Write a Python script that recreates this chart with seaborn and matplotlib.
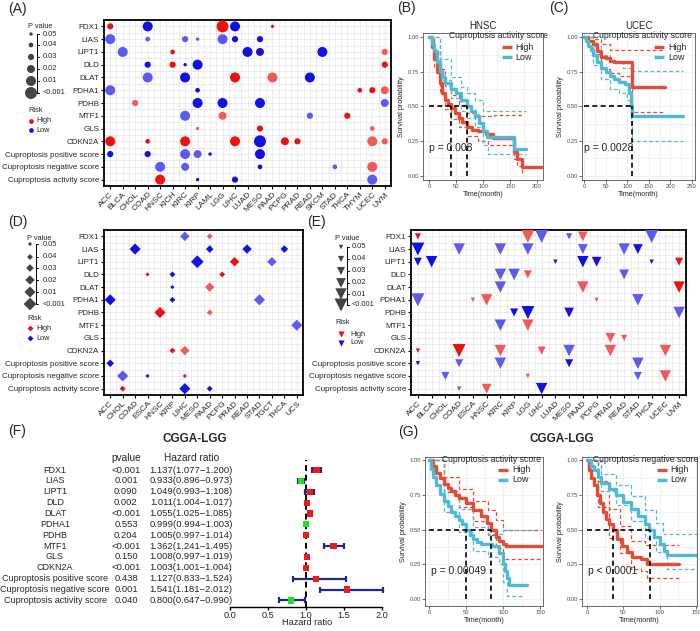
import numpy as np
import pandas as pd
import matplotlib
matplotlib.use("Agg")
import matplotlib.pyplot as plt
import seaborn as sns

# ---------------- data ----------------
gene_keys = ["FDX1", "LIAS", "LIPT1", "DLD", "DLAT", "PDHA1", "PDHB", "MTF1", "GLS", "CDKN2A",
             "POS", "NEG", "ACT"]
gene_labels = ["FDX1", "LIAS", "LIPT1", "DLD", "DLAT", "PDHA1", "PDHB", "MTF1", "GLS", "CDKN2A",
               "Cuproptosis positive score", "Cuproptosis negative score", "Cuproptosis activity score"]
p_levels = ["0.05", "0.04", "0.03", "0.02", "0.01", "<0.001"]

A_cancers = ["ACC", "BLCA", "CHOL", "COAD", "HNSC", "KICH", "KIRC", "KIRP", "LAML", "LGG", "LIHC", "LUAD",
             "MESO", "PAAD", "PCPG", "PRAD", "READ", "SKCM", "STAD", "THCA", "THYM", "UCEC", "UVM"]
D_cancers = ["ACC", "CHOL", "COAD", "ESCA", "HNSC", "KIRP", "LIHC", "MESO", "PAAD", "PCPG", "PRAD", "READ",
             "STAD", "TGCT", "THCA", "UCS"]
E_cancers = ["ACC", "BLCA", "CHOL", "COAD", "ESCA", "HNSC", "KIRC", "KIRP", "LGG", "LIHC", "LUAD", "MESO",
             "PAAD", "PCPG", "PRAD", "READ", "STAD", "THCA", "UCEC", "UVM"]

# (gene, cancer, risk H/L, p-value level 1..6, lighter shade)
A_points = [
    ("FDX1", "ACC", "H", 3, 0), ("FDX1", "COAD", "L", 5, 0), ("FDX1", "LGG", "H", 6, 0), ("FDX1", "LIHC", "L", 5, 0),
    ("FDX1", "PAAD", "H", 1, 0),
    ("LIAS", "ACC", "L", 5, 1), ("LIAS", "COAD", "L", 2, 1), ("LIAS", "KIRC", "L", 3, 1), ("LIAS", "KIRP", "L", 1, 1),
    ("LIAS", "LGG", "L", 5, 1), ("LIAS", "LIHC", "L", 3, 0), ("LIAS", "MESO", "L", 3, 0),
    ("LIPT1", "BLCA", "L", 5, 1), ("LIPT1", "KICH", "H", 2, 0), ("LIPT1", "LUAD", "L", 5, 0), ("LIPT1", "MESO", "L", 4, 0),
    ("LIPT1", "SKCM", "L", 5, 0), ("LIPT1", "UVM", "H", 3, 1),
    ("DLD", "COAD", "L", 3, 0), ("DLD", "KICH", "H", 3, 0), ("DLD", "KIRC", "L", 1, 0), ("DLD", "KIRP", "L", 5, 0),
    ("DLD", "UVM", "H", 3, 0),
    ("DLAT", "COAD", "L", 5, 1), ("DLAT", "KIRC", "L", 5, 0), ("DLAT", "LIHC", "H", 5, 0), ("DLAT", "PAAD", "H", 5, 1),
    ("DLAT", "READ", "L", 5, 0),
    ("PDHA1", "ACC", "L", 5, 1), ("PDHA1", "KIRP", "L", 2, 0), ("PDHA1", "THYM", "H", 2, 0), ("PDHA1", "UCEC", "H", 3, 0),
    ("PDHA1", "UVM", "H", 4, 1),
    ("PDHB", "CHOL", "H", 3, 1), ("PDHB", "KIRP", "L", 5, 0), ("PDHB", "LGG", "L", 5, 0), ("PDHB", "MESO", "L", 5, 0),
    ("PDHB", "UVM", "L", 4, 1),
    ("MTF1", "KIRC", "L", 5, 1), ("MTF1", "LGG", "H", 4, 1), ("MTF1", "READ", "L", 3, 1), ("MTF1", "THCA", "H", 3, 0),
    ("GLS", "KIRP", "H", 1, 1), ("GLS", "MESO", "H", 3, 0), ("GLS", "UCEC", "H", 2, 1),
    ("CDKN2A", "ACC", "H", 5, 0), ("CDKN2A", "COAD", "H", 2, 0), ("CDKN2A", "KIRC", "H", 5, 0), ("CDKN2A", "LIHC", "H", 5, 0),
    ("CDKN2A", "MESO", "L", 6, 0), ("CDKN2A", "PCPG", "H", 4, 0), ("CDKN2A", "PRAD", "H", 3, 0),
    ("CDKN2A", "UCEC", "H", 5, 1), ("CDKN2A", "UVM", "H", 3, 1),
    ("POS", "ACC", "L", 3, 0), ("POS", "COAD", "L", 3, 0), ("POS", "KIRC", "L", 5, 1), ("POS", "KIRP", "L", 4, 1),
    ("POS", "LAML", "L", 1, 0), ("POS", "MESO", "L", 5, 0),
    ("NEG", "HNSC", "L", 5, 1), ("NEG", "KIRC", "L", 4, 1), ("NEG", "MESO", "L", 2, 0), ("NEG", "STAD", "L", 2, 1),
    ("NEG", "UCEC", "H", 5, 1),
    ("ACT", "HNSC", "H", 5, 0), ("ACT", "KIRP", "L", 1, 0), ("ACT", "LIHC", "L", 3, 0), ("ACT", "UCEC", "L", 5, 1),
]

D_points = [
    ("FDX1", "LIHC", "L", 4, 1), ("FDX1", "PAAD", "H", 2, 1),
    ("LIAS", "COAD", "L", 5, 0), ("LIAS", "PAAD", "L", 3, 0), ("LIAS", "READ", "L", 4, 0), ("LIAS", "THCA", "L", 3, 0),
    ("LIPT1", "MESO", "L", 6, 0), ("LIPT1", "PRAD", "H", 4, 0), ("LIPT1", "TGCT", "L", 4, 1),
    ("DLD", "ESCA", "H", 1, 0), ("DLD", "KIRP", "L", 2, 0), ("DLD", "PCPG", "H", 2, 0),
    ("DLAT", "KIRP", "L", 1, 0), ("DLAT", "PAAD", "H", 4, 1),
    ("PDHA1", "ACC", "L", 5, 0), ("PDHA1", "KIRP", "L", 2, 0), ("PDHA1", "STAD", "L", 5, 1),
    ("PDHB", "HNSC", "H", 5, 0), ("PDHB", "PAAD", "H", 2, 1),
    ("MTF1", "UCS", "L", 5, 1),
    ("CDKN2A", "KIRP", "H", 2, 0), ("CDKN2A", "LIHC", "H", 4, 1),
    ("POS", "ACC", "L", 3, 0),
    ("NEG", "CHOL", "L", 5, 1), ("NEG", "ESCA", "L", 1, 0), ("NEG", "LIHC", "H", 1, 0),
    ("ACT", "CHOL", "H", 2, 0), ("ACT", "LIHC", "L", 5, 0), ("ACT", "PAAD", "L", 2, 0),
]

E_points = [
    ("FDX1", "ACC", "H", 2, 0), ("FDX1", "LGG", "H", 6, 1), ("FDX1", "LIHC", "L", 6, 1), ("FDX1", "MESO", "L", 2, 1),
    ("FDX1", "PAAD", "H", 4, 1), ("FDX1", "THCA", "L", 6, 1),
    ("LIAS", "ACC", "L", 6, 0), ("LIAS", "COAD", "L", 5, 1), ("LIAS", "KIRC", "L", 5, 1), ("LIAS", "LGG", "L", 5, 1),
    ("LIAS", "PAAD", "L", 4, 1), ("LIAS", "READ", "L", 5, 1), ("LIAS", "STAD", "L", 4, 0),
    ("LIPT1", "ACC", "L", 3, 0), ("LIPT1", "BLCA", "L", 5, 0), ("LIPT1", "LUAD", "L", 1, 0), ("LIPT1", "PAAD", "L", 5, 0),
    ("LIPT1", "PCPG", "L", 4, 0), ("LIPT1", "THCA", "L", 1, 0), ("LIPT1", "UVM", "H", 3, 0),
    ("DLD", "KIRC", "L", 5, 1), ("DLD", "KIRP", "L", 5, 1), ("DLD", "LGG", "H", 3, 1), ("DLD", "READ", "L", 4, 1),
    ("DLAT", "KIRC", "L", 5, 1), ("DLAT", "PAAD", "H", 5, 1), ("DLAT", "UVM", "H", 5, 0),
    ("PDHA1", "ACC", "L", 6, 1), ("PDHA1", "ESCA", "H", 1, 1), ("PDHA1", "HNSC", "H", 5, 1), ("PDHA1", "PCPG", "H", 1, 1),
    ("PDHA1", "STAD", "L", 5, 1),
    ("PDHB", "KIRP", "L", 3, 0), ("PDHB", "LGG", "L", 6, 0), ("PDHB", "MESO", "L", 4, 0), ("PDHB", "UVM", "L", 5, 1),
    ("MTF1", "KIRC", "L", 5, 1), ("MTF1", "LGG", "H", 5, 1),
    ("GLS", "PRAD", "H", 4, 1), ("GLS", "READ", "H", 2, 1),
    ("CDKN2A", "ACC", "H", 1, 0), ("CDKN2A", "COAD", "H", 6, 0), ("CDKN2A", "KIRC", "H", 5, 1), ("CDKN2A", "LIHC", "H", 3, 1),
    ("CDKN2A", "MESO", "L", 5, 1), ("CDKN2A", "PRAD", "H", 5, 1), ("CDKN2A", "UCEC", "H", 5, 1),
    ("POS", "ACC", "L", 1, 0), ("POS", "COAD", "L", 3, 1), ("POS", "KIRC", "L", 5, 1), ("POS", "MESO", "L", 3, 0),
    ("POS", "STAD", "L", 5, 1),
    ("NEG", "CHOL", "L", 3, 1), ("NEG", "LGG", "H", 1, 1), ("NEG", "STAD", "L", 3, 1), ("NEG", "UCEC", "H", 5, 1),
    ("ACT", "COAD", "L", 1, 1), ("ACT", "HNSC", "H", 4, 1), ("ACT", "LIHC", "L", 5, 0),
]

# survival curves: (time in months, survival probability)
B_high = ([0, 5, 10, 15, 20, 25, 30, 35, 40, 48, 55, 62, 70, 80, 90, 105, 118, 157, 162, 172, 210],
          [1.0, 0.93, 0.84, 0.75, 0.67, 0.6, 0.55, 0.52, 0.49, 0.45, 0.42, 0.39, 0.35, 0.33, 0.32, 0.3, 0.27, 0.17, 0.12, 0.06, 0.06])
B_low = ([0, 5, 10, 15, 20, 25, 30, 40, 50, 60, 70, 78, 85, 92, 100, 108, 158, 180],
         [1.0, 0.95, 0.9, 0.82, 0.76, 0.71, 0.67, 0.63, 0.6, 0.55, 0.5, 0.47, 0.43, 0.38, 0.32, 0.28, 0.19, 0.19])
B_high_up = ([0, 10, 20, 30, 40, 55, 70, 90, 120, 175], [1.0, 0.9, 0.77, 0.65, 0.58, 0.51, 0.45, 0.43, 0.44, 0.44])
B_high_lo = ([0, 10, 20, 30, 40, 55, 70, 90, 110, 157, 162, 172], [1.0, 0.78, 0.6, 0.48, 0.41, 0.35, 0.29, 0.25, 0.22, 0.12, 0.07, 0.02])
B_low_up = ([0, 20, 40, 60, 70, 85, 100, 180], [1.0, 0.84, 0.71, 0.64, 0.6, 0.55, 0.47, 0.47])
B_low_lo = ([0, 20, 40, 60, 70, 85, 100, 110, 158, 180], [1.0, 0.69, 0.56, 0.47, 0.42, 0.35, 0.22, 0.16, 0.16, 0.16])
B_med = [40, 71]

C_high = ([0, 10, 20, 30, 40, 50, 60, 70, 112, 188], [1.0, 0.97, 0.95, 0.9, 0.86, 0.85, 0.83, 0.82, 0.64, 0.64])
C_low = ([0, 5, 10, 15, 20, 30, 40, 50, 60, 70, 80, 95, 103, 108, 112, 230],
         [1.0, 0.97, 0.94, 0.91, 0.87, 0.82, 0.78, 0.75, 0.72, 0.7, 0.68, 0.66, 0.6, 0.5, 0.43, 0.43])
C_high_up = ([0, 20, 40, 60, 188], [1.0, 0.99, 0.95, 0.91, 0.91])
C_high_lo = ([0, 20, 40, 60, 80, 112, 188], [1.0, 0.88, 0.77, 0.74, 0.72, 0.46, 0.46])
C_low_up = ([0, 20, 40, 60, 90, 112, 230], [1.0, 0.94, 0.87, 0.83, 0.78, 0.76, 0.76])
C_low_lo = ([0, 20, 40, 60, 80, 100, 108, 112, 230], [1.0, 0.8, 0.7, 0.63, 0.6, 0.55, 0.4, 0.25, 0.25])
C_med = [111]

G1_high = ([0, 5, 10, 15, 20, 25, 30, 35, 40, 50, 60, 70, 78, 84, 90, 95, 100, 104, 153],
           [1.0, 0.96, 0.91, 0.87, 0.83, 0.8, 0.78, 0.75, 0.73, 0.69, 0.64, 0.6, 0.55, 0.5, 0.45, 0.42, 0.4, 0.38, 0.38])
G1_low = ([0, 3, 6, 10, 15, 20, 25, 30, 35, 40, 45, 50, 55, 60, 65, 70, 85, 95, 100, 102, 106, 108, 132],
          [1.0, 0.94, 0.88, 0.82, 0.76, 0.71, 0.67, 0.63, 0.6, 0.57, 0.54, 0.5, 0.46, 0.43, 0.41, 0.4, 0.38, 0.33, 0.25, 0.2, 0.15, 0.1, 0.1])
G1_high_up = ([0, 20, 40, 60, 80, 90, 100, 153], [1.0, 0.88, 0.79, 0.71, 0.64, 0.57, 0.5, 0.5])
G1_high_lo = ([0, 20, 40, 60, 80, 90, 100, 153], [1.0, 0.77, 0.66, 0.56, 0.46, 0.37, 0.29, 0.29])
G1_low_up = ([0, 20, 40, 60, 80, 100, 143], [1.0, 0.78, 0.65, 0.52, 0.47, 0.5, 0.5])
G1_low_lo = ([0, 20, 40, 60, 80, 95, 100, 106, 125], [1.0, 0.63, 0.48, 0.35, 0.3, 0.25, 0.12, 0.02, 0.02])
G1_med = [50, 84]

G2_high = ([0, 3, 6, 10, 14, 18, 22, 26, 30, 36, 42, 48, 55, 62, 75, 82, 127],
           [1.0, 0.93, 0.87, 0.82, 0.75, 0.69, 0.63, 0.58, 0.54, 0.5, 0.43, 0.38, 0.34, 0.3, 0.29, 0.25, 0.25])
G2_low = ([0, 5, 10, 15, 20, 30, 40, 50, 60, 70, 80, 86, 92, 100, 106, 110, 152],
          [1.0, 0.96, 0.93, 0.88, 0.84, 0.79, 0.75, 0.7, 0.65, 0.6, 0.54, 0.5, 0.45, 0.4, 0.35, 0.32, 0.32])
G2_high_up = ([0, 15, 30, 45, 60, 80, 127], [1.0, 0.85, 0.65, 0.53, 0.42, 0.39, 0.39])
G2_high_lo = ([0, 15, 30, 45, 60, 75, 82, 127], [1.0, 0.66, 0.44, 0.33, 0.22, 0.2, 0.15, 0.15])
G2_low_up = ([0, 20, 40, 60, 80, 95, 105, 152], [1.0, 0.9, 0.82, 0.74, 0.64, 0.55, 0.47, 0.47])
G2_low_lo = ([0, 20, 40, 60, 80, 95, 110, 152], [1.0, 0.78, 0.68, 0.56, 0.44, 0.34, 0.22, 0.22])
G2_med = [36, 87]

# forest plot (CGGA-LGG)
F_pval = ["<0.001", "0.001", "0.090", "0.002", "<0.001", "0.553", "0.204", "<0.001", "0.150", "<0.001",
          "0.438", "0.001", "0.040"]
F_hr = [1.137, 0.933, 1.049, 1.011, 1.055, 0.999, 1.005, 1.362, 1.008, 1.003, 1.127, 1.541, 0.800]
F_lo = [1.077, 0.896, 0.993, 1.004, 1.025, 0.994, 0.997, 1.241, 0.997, 1.001, 0.833, 1.181, 0.647]
F_hi = [1.200, 0.973, 1.108, 1.017, 1.085, 1.003, 1.014, 1.495, 1.019, 1.004, 1.524, 2.012, 0.990]

# ---------------- figure ----------------
sns.set_theme(style="white")
plt.rcParams["font.family"] = ["Liberation Sans", "DejaVu Sans"]

W, H = 700, 631
fig = plt.figure(figsize=(7, 6.31), dpi=100)


def add_ax(x0, y0, x1, y1):
    # rectangle given in pixels from the top-left corner
    return fig.add_axes([x0 / W, 1 - y1 / H, (x1 - x0) / W, (y1 - y0) / H])


pal = {"H": "#EE1111", "HL": "#F25A5A", "L": "#1111E6", "LL": "#5B5BEF"}
circle_sizes = {1: 6, 2: 11.5, 3: 20, 4: 33, 5: 52, 6: 74}
diamond_sizes = {1: 4.5, 2: 9, 3: 15, 4: 23, 5: 32, 6: 42}
tri_sizes = {1: 10, 2: 20, 3: 34, 4: 50, 5: 68, 6: 88}


def dot_panel(ax, points, cancers, marker, sizes):
    df = pd.DataFrame(points, columns=["gene", "cancer", "risk", "level", "light"])
    df["x"] = df["cancer"].map({c: i for i, c in enumerate(cancers)})
    df["y"] = df["gene"].map({g: i for i, g in enumerate(gene_keys)})
    df["shade"] = df["risk"] + np.where(df["light"] == 1, "L", "")
    sns.scatterplot(data=df, x="x", y="y", hue="shade", palette=pal, size="level", sizes=sizes,
                    marker=marker, linewidth=0, legend=False, ax=ax, zorder=3)
    ax.set_xlim(-0.5, len(cancers) - 0.5)
    ax.set_ylim(len(gene_keys) - 0.5, -0.5)
    ax.set_xticks(range(len(cancers)))
    ax.set_xticklabels(cancers, rotation=45, ha="right", rotation_mode="anchor", fontsize=6)
    ax.set_yticks(range(len(gene_keys)))
    ax.set_yticklabels(gene_labels, fontsize=5.8)
    ax.set_xticks(np.arange(-0.5, len(cancers)), minor=True)
    ax.set_yticks(np.arange(-0.5, len(gene_keys)), minor=True)
    ax.grid(True, which="both", color="#E4E4E4", lw=0.5)
    ax.set_axisbelow(True)
    ax.tick_params(which="minor", length=0)
    ax.tick_params(which="major", length=2.5, width=0.8, color="black", pad=1,
                   bottom=True, left=True)
    ax.set_xlabel("")
    ax.set_ylabel("")
    for s in ax.spines.values():
        s.set_color("black")
        s.set_linewidth(1.3)


axA = add_ax(104, 20, 391, 186)
dot_panel(axA, A_points, A_cancers, "o", circle_sizes)
axD = add_ax(104, 230, 303, 395)
dot_panel(axD, D_points, D_cancers, "D", diamond_sizes)
axE = add_ax(411, 230, 686, 395)
dot_panel(axE, E_points, E_cancers, "v", tri_sizes)

HIGH_C, LOW_C = "#E64B35", "#4DBBD5"


def km_panel(ax, high, low, cis, med, ptxt, p_xy, xticks, xlim, ylim, title=None):
    for (t, s), c in [(high, HIGH_C), (low, LOW_C)]:
        sns.lineplot(x=t, y=s, drawstyle="steps-post", color=c, lw=2.4, errorbar=None, ax=ax, zorder=3)
    for (t, s), c in cis:
        sns.lineplot(x=t, y=s, drawstyle="steps-post", color=c, lw=0.9, linestyle=(0, (3, 2)),
                     errorbar=None, ax=ax, zorder=2)
    ax.plot([0, max(med)], [0.5, 0.5], color="black", ls=(0, (3, 2)), lw=1.2, zorder=4)
    for m in med:
        ax.plot([m, m], [0, 0.5], color="black", ls=(0, (3, 2)), lw=1.2, zorder=4)
    ax.text(p_xy[0], p_xy[1], ptxt, fontsize=7.5, ha="left", va="center", zorder=5)
    ax.set_xlim(xlim)
    ax.set_ylim(ylim)
    ax.set_xticks(xticks)
    ax.set_xticks(np.array(xticks[:-1]) + (xticks[1] - xticks[0]) / 2, minor=True)
    ax.set_yticks([0, 0.25, 0.5, 0.75, 1.0])
    ax.set_yticklabels(["0.00", "0.25", "0.50", "0.75", "1.00"])
    ax.set_yticks([0.125, 0.375, 0.625, 0.875], minor=True)
    ax.grid(True, which="both", color="#EBEBEB", lw=0.5)
    ax.set_axisbelow(True)
    ax.tick_params(which="major", labelsize=4.2, labelcolor="#4D4D4D", length=2, width=0.5,
                   color="#333333", pad=1, bottom=True, left=True)
    ax.tick_params(which="minor", length=0)
    ax.set_xlabel("Time(month)", fontsize=5.2, labelpad=1)
    ax.set_ylabel("Survival probability", fontsize=5.2, labelpad=2)
    for s in ax.spines.values():
        s.set_color("#555555")
        s.set_linewidth(0.6)
    if title:
        ax.set_title(title, fontsize=7, pad=3)


axB = add_ax(423, 33, 543, 180)
km_panel(axB, B_high, B_low, [(B_high_up, HIGH_C), (B_high_lo, HIGH_C), (B_low_up, LOW_C), (B_low_lo, LOW_C)],
         B_med, "p = 0.008", (0, 0.2), [0, 50, 100, 150, 200], (-11, 211), (-0.031, 1.031), "HNSC")
axC = add_ax(582, 33, 695, 180)
km_panel(axC, C_high, C_low, [(C_high_up, HIGH_C), (C_high_lo, HIGH_C), (C_low_up, LOW_C), (C_low_lo, LOW_C)],
         C_med, "p = 0.0028", (0, 0.2), [0, 50, 100, 150, 200, 250], (-5, 257), (-0.031, 1.031), "UCEC")
axG1 = add_ax(425, 457, 543, 606)
km_panel(axG1, G1_high, G1_low, [(G1_high_up, HIGH_C), (G1_high_lo, HIGH_C), (G1_low_up, LOW_C), (G1_low_lo, LOW_C)],
         G1_med, "p = 0.00049", (3, 0.2), [0, 50, 100, 150], (-5.4, 154), (-0.05, 1.024))
axG2 = add_ax(582, 457, 697, 606)
km_panel(axG2, G2_high, G2_low, [(G2_high_up, HIGH_C), (G2_high_lo, HIGH_C), (G2_low_up, LOW_C), (G2_low_lo, LOW_C)],
         G2_med, "p < 0.0001", (1, 0.2), [0, 50, 100, 150], (-6.8, 151.4), (-0.05, 1.024))

# forest plot
axF = add_ax(230, 460, 384, 607)
rows = np.arange(len(F_hr))
hr = np.array(F_hr)
axF.axvline(1, color="black", ls=(0, (3, 2)), lw=1.4, zorder=1)
axF.errorbar(hr, rows, xerr=[hr - np.array(F_lo), np.array(F_hi) - hr], fmt="none",
             ecolor="#1B2A8C", elinewidth=1.6, capsize=2.2, capthick=1.6, zorder=2)
sns.scatterplot(x=hr, y=rows, hue=np.where(hr > 1, "up", "down"),
                palette={"up": "#F01818", "down": "#22E022"}, marker="s", s=20, linewidth=0,
                legend=False, ax=axF, zorder=3)
axF.set_xlim(0, 2.026)
axF.set_ylim(12.6, -0.92)
axF.set_xticks([0, 0.5, 1.0, 1.5, 2.0])
axF.set_xticklabels(["0.0", "0.5", "1.0", "1.5", "2.0"], fontsize=6.6)
axF.set_yticks([])
axF.set_xlabel("Hazard ratio", fontsize=6.6, labelpad=-1)
axF.set_ylabel("")
for k in ["left", "top", "right"]:
    axF.spines[k].set_visible(False)
axF.spines["bottom"].set_bounds(0, 2)
axF.spines["bottom"].set_color("black")
axF.spines["bottom"].set_linewidth(1.0)
axF.tick_params(axis="x", bottom=True, length=2.2, width=1, color="black", pad=0.5)
axF.patch.set_alpha(0)

# overlay for legends, panel letters and table text (pixel coordinates)
ov = fig.add_axes([0, 0, 1, 1])
ov.set_xlim(0, W)
ov.set_ylim(H, 0)
ov.axis("off")
ov.set_zorder(10)

for lab, x, y in [("(A)", 8, 2), ("(B)", 397, 1), ("(C)", 549, 1), ("(D)", 8, 215),
                  ("(E)", 307, 215), ("(F)", 8, 424), ("(G)", 398, 425)]:
    ov.text(x, y, lab, fontsize=10, ha="left", va="top")


def dot_legend(marker, sizes, title_xy, mx, ys, bx, lx, risk_y, hl_ys, tx):
    ov.text(title_xy[0], title_xy[1], "P value", fontsize=5.3, ha="center", va="center")
    ov.scatter([mx] * 6, ys, s=[sizes[k] for k in range(1, 7)], marker=marker, color="#444444", linewidth=0)
    ov.plot([bx, bx], [ys[0], ys[-1]], color="black", lw=0.7)
    for y, t in zip(ys, p_levels):
        ov.plot([bx, bx + 2], [y, y], color="black", lw=0.7)
        ov.text(lx, y, t, fontsize=5.3, ha="left", va="center")
    ov.text(title_xy[0] - 4, risk_y, "Risk", fontsize=5.3, ha="center", va="center")
    for y, t, c in zip(hl_ys, ["High", "Low"], ["#EE1111", "#1111E6"]):
        ov.scatter([mx], [y], s=sizes[2], marker=marker, color=c, linewidth=0)
        ov.text(tx, y, t, fontsize=5.3, ha="left", va="center")


dot_legend("o", circle_sizes, (40, 26), 31, [34, 45, 57, 69, 81, 93], 37, 43, 110, [121, 130], 36)
dot_legend("D", diamond_sizes, (39, 238), 30, [244, 257, 268, 280, 292, 304], 36, 43, 318, [328, 338], 36)
dot_legend("v", tri_sizes, (347, 239), 341, [247, 259, 271, 283, 294, 305], 347, 352, 323, [334, 343], 350)


def km_legend(title, tr, ty, hx, tx, ys):
    ov.text(tr, ty, title, fontsize=6.2, ha="right", va="center")
    for y, t, c in zip(ys, ["High", "Low"], [HIGH_C, LOW_C]):
        ov.plot(hx, [y, y], color=c, lw=2.4, solid_capstyle="butt")
        ov.text(tx, y, t, fontsize=6.4, ha="left", va="center")


km_legend("Cuproptosis activity score", 548, 35, [502, 512], 515, [47, 57])
km_legend("Cuproptosis activity score", 692, 35, [654, 664], 668, [47, 57])
km_legend("Cuproptosis activity score", 541, 459, [498, 508], 512, [470, 480])
km_legend("Cuproptosis negative score", 698, 459, [657, 667], 670, [470, 480])

# forest table text
ov.text(195, 439, "CGGA-LGG", fontsize=8.5, fontweight="bold", ha="center", va="center")
ov.text(562, 439, "CGGA-LGG", fontsize=8.5, fontweight="bold", ha="center", va="center")
ov.text(126, 458, "pvalue", fontsize=7.3, ha="center", va="center")
ov.text(192, 458, "Hazard ratio", fontsize=7.3, ha="center", va="center")
for i in range(len(F_hr)):
    y = 460 + (i + 0.92) * (147 / 13.52)
    ov.text(55, y, gene_labels[i], fontsize=6.5, ha="center", va="center")
    ov.text(126, y, F_pval[i], fontsize=6.8, ha="center", va="center")
    ov.text(191, y, f"{F_hr[i]:.3f}({F_lo[i]:.3f}\u2212{F_hi[i]:.3f})", fontsize=6.8, ha="center", va="center")

fig.savefig("out.png", dpi=100)
